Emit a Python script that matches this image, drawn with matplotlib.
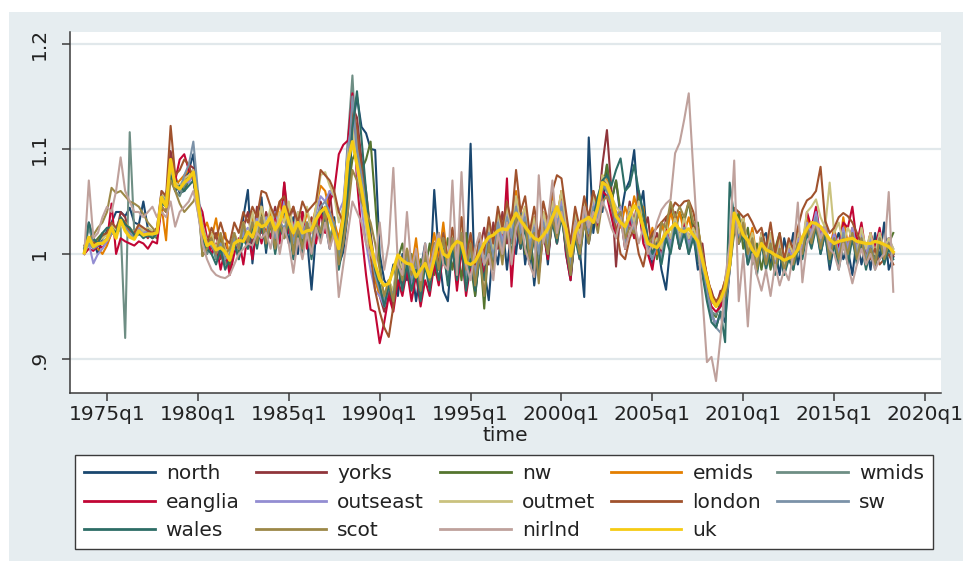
import numpy as np
import matplotlib
matplotlib.use("Agg")
import matplotlib.pyplot as plt
from matplotlib.patches import Rectangle

# Quarterly index in Stata %tq units (0 = 1960q1); first observation 1973q4
start_q = 55

# Regional ratios, stored in thousandths (1000 = 1.000)
north = [
    1003, 1030, 1012, 1000, 1015, 1022, 1030, 1040, 1040, 1036,
    1044, 1030, 1028, 1050, 1024, 1020, 1022, 1050, 1055, 1085,
    1070, 1058, 1060, 1080, 1095, 1050, 1010, 1000, 1020, 1000,
    1012, 990, 1003, 1020, 1000, 1035, 1061, 991, 1035, 1054,
    1001, 1040, 1012, 1025, 1045, 1010, 1035, 1000, 1040, 1015,
    966, 1020, 1045, 1030, 1005, 1035, 990, 1002, 1040, 1120,
    1150, 1121, 1115, 1100, 1099, 1000, 975, 968, 990, 960,
    1000, 975, 990, 955, 985, 1010, 970, 1061, 1000, 965,
    955, 1010, 990, 1020, 975, 1105, 960, 1000, 985, 956,
    1012, 990, 1030, 985, 1025, 1000, 1040, 990, 1020, 970,
    1010, 1030, 990, 1040, 1010, 1045, 1000, 975, 1020, 1005,
    959, 1111, 1020, 1055, 1040, 1085, 1050, 1070, 1035, 1060,
    1070, 1099, 1040, 1060, 1005, 990, 1015, 985, 966, 1010,
    1030, 1005, 1025, 1000, 1020, 985, 995, 960, 945, 930,
    945, 935, 985, 1030, 1010, 1025, 990, 1010, 985, 1015,
    1020, 990, 1005, 980, 1015, 995, 1020, 990, 1012, 1025,
    1010, 1030, 1000, 1020, 985, 1010, 1020, 995, 1005, 980,
    1015, 990, 1010, 985, 1020, 995, 1030, 985, 997,
]
yorks = [
    1000, 1012, 1005, 1008, 1012, 1010, 1020, 1018, 1040, 1035,
    1020, 1018, 1025, 1020, 1015, 1022, 1018, 1050, 1050, 1098,
    1075, 1060, 1070, 1085, 1082, 1050, 1030, 1015, 1005, 1020,
    995, 1010, 985, 1015, 1000, 1025, 1040, 1010, 1045, 1020,
    1040, 1025, 1045, 1020, 1068, 1030, 1045, 1020, 1040, 1010,
    1035, 1020, 1050, 1035, 1060, 1020, 1000, 1040, 1100, 1140,
    1130, 1090, 1060, 1020, 985, 960, 945, 965, 950, 990,
    970, 1000, 975, 995, 960, 1005, 975, 1010, 985, 1020,
    975, 1020, 990, 1030, 980, 1010, 965, 1005, 1025, 990,
    1030, 1005, 1040, 1010, 1035, 1055, 1015, 1030, 1000, 1020,
    995, 1030, 1010, 1050, 1030, 1060, 1020, 990, 1040, 1015,
    1045, 1020, 1060, 1040, 1085, 1118, 1060, 988, 1045, 1020,
    1050, 1030, 1060, 1020, 1035, 1000, 1020, 1000, 1035, 1010,
    1040, 1015, 1035, 1010, 1030, 1000, 1010, 975, 965, 950,
    965, 960, 1005, 1040, 1020, 1035, 1005, 1020, 990, 1015,
    995, 1015, 985, 1005, 990, 1010, 1000, 1020, 1000, 1030,
    1015, 1035, 1010, 1025, 1000, 1020, 995, 1015, 1000, 1020,
    995, 1015, 1000, 1020, 990, 1010, 1000, 1015, 998,
]
nw = [
    1005, 1010, 1010, 1015, 1020, 1018, 1022, 1025, 1030, 1028,
    1025, 1020, 1024, 1020, 1022, 1018, 1015, 1050, 1055, 1080,
    1070, 1065, 1060, 1070, 1075, 1055, 998, 1005, 1020, 995,
    1015, 1000, 990, 1010, 1000, 1025, 1010, 1030, 1015, 1040,
    1015, 1035, 1010, 1030, 1020, 1040, 1005, 1030, 1010, 1025,
    1000, 1030, 1020, 1045, 1015, 1030, 990, 1020, 1060, 1090,
    1100, 1080, 1090, 1107, 1050, 990, 955, 975, 960, 995,
    1010, 980, 1000, 975, 995, 985, 1010, 980, 1020, 990,
    1015, 985, 1010, 975, 1020, 990, 960, 1005, 948, 1015,
    990, 1025, 1000, 1030, 995, 1020, 1035, 1000, 1020, 985,
    1005, 1030, 995, 1040, 1015, 1045, 1010, 980, 1020, 1000,
    1040, 1015, 1050, 1030, 1060, 1085, 1050, 1070, 1040, 1010,
    1040, 1020, 1055, 1030, 1005, 1020, 995, 1030, 1015, 1045,
    1020, 1040, 1030, 1050, 1020, 1030, 990, 970, 945, 940,
    955, 950, 985, 1020, 1040, 1005, 1025, 990, 1010, 985,
    1010, 985, 1005, 1020, 990, 1000, 985, 1015, 1000, 1025,
    1015, 1035, 1010, 1030, 1000, 1020, 990, 1015, 1000, 1020,
    1000, 1025, 995, 1015, 990, 1020, 1000, 1010, 1020,
]
emids = [
    1002, 1015, 1010, 1005, 1000, 1008, 1020, 1018, 1030, 1028,
    1020, 1015, 1022, 1018, 1020, 1015, 1018, 1045, 1013, 1080,
    1065, 1070, 1075, 1080, 1075, 1045, 1020, 1030, 1015, 1034,
    1005, 1020, 995, 1015, 1005, 1030, 1015, 1035, 1020, 1045,
    1020, 1040, 1025, 1050, 1030, 1045, 1015, 1035, 1020, 1040,
    1025, 1045, 1065, 1060, 1040, 1030, 1015, 1040, 1095, 1130,
    1110, 1070, 1040, 1010, 975, 960, 955, 975, 960, 1000,
    980, 1005, 985, 1015, 975, 1000, 990, 1020, 995, 1030,
    990, 1020, 1000, 1035, 990, 1015, 985, 1020, 995, 1030,
    1005, 1040, 1015, 1045, 1020, 1060, 1030, 1045, 1010, 1035,
    1005, 1040, 1020, 1055, 1035, 1060, 1025, 1000, 1040, 1020,
    1050, 1030, 1055, 1040, 1075, 1070, 1055, 1040, 1025, 1045,
    1030, 1055, 1035, 1045, 1010, 1025, 1000, 1030, 1015, 1040,
    1025, 1040, 1020, 1035, 1015, 1025, 1000, 980, 960, 955,
    960, 975, 995, 1040, 1020, 1035, 1005, 1025, 995, 1020,
    1000, 1020, 990, 1015, 995, 1010, 1000, 1025, 1010, 1035,
    1020, 1040, 1015, 1030, 1005, 1025, 1000, 1035, 1010, 1025,
    1000, 1020, 995, 1015, 1000, 1020, 995, 1010, 1000,
]
wmids = [
    1004, 1025, 1010, 1012, 1015, 1020, 1022, 1018, 1025, 920,
    1116, 1020, 1018, 1022, 1020, 1015, 1018, 1050, 1045, 1085,
    1060, 1055, 1065, 1070, 1075, 1040, 1015, 1000, 1010, 995,
    1010, 990, 1000, 1015, 995, 1020, 1005, 1025, 1010, 1030,
    1010, 1035, 1005, 1030, 1015, 1040, 1000, 1025, 1005, 1030,
    1005, 1035, 1020, 1045, 1015, 1030, 995, 1040, 1110, 1170,
    1090, 1060, 1030, 1000, 980, 970, 950, 975, 960, 1000,
    975, 995, 970, 990, 960, 1000, 970, 1005, 985, 1015,
    980, 1010, 985, 1020, 975, 1005, 970, 1000, 985, 1020,
    995, 1030, 1005, 1035, 1010, 1045, 1015, 1035, 1000, 1025,
    990, 1030, 1005, 1040, 1015, 1045, 1010, 985, 1030, 1005,
    1040, 1015, 1045, 1030, 1065, 1060, 1045, 1020, 1035, 1005,
    1035, 1015, 1045, 1015, 1005, 995, 1010, 995, 1020, 1005,
    1030, 1010, 1025, 1005, 1020, 1000, 985, 965, 945, 942,
    950, 955, 990, 1035, 1010, 1025, 995, 1010, 985, 1015,
    990, 1010, 985, 1005, 980, 1000, 990, 1010, 1000, 1025,
    1010, 1030, 1005, 1025, 995, 1015, 990, 1015, 995, 1020,
    995, 1015, 990, 1010, 985, 1015, 995, 1010, 1000,
]
eanglia = [
    1000, 1005, 1003, 1008, 1006, 1012, 1048, 1000, 1015, 1012,
    1010, 1008, 1012, 1010, 1005, 1012, 1010, 1045, 1040, 1085,
    1070, 1090, 1095, 1080, 1070, 1050, 1040, 1015, 1000, 1010,
    985, 1005, 980, 1000, 1015, 990, 1020, 995, 1030, 1010,
    1030, 1015, 1040, 1010, 1068, 1020, 1030, 1010, 1040, 1005,
    1025, 1010, 1040, 1020, 1050, 1060, 1095, 1104, 1108, 1153,
    1070, 1020, 980, 947, 945, 915, 935, 960, 945, 975,
    960, 985, 955, 980, 950, 975, 960, 990, 970, 1000,
    975, 1010, 965, 1005, 960, 990, 970, 1000, 980, 1015,
    990, 1025, 1000, 1072, 969, 1030, 1005, 1035, 990, 1020,
    980, 1020, 995, 1035, 1010, 1045, 1000, 975, 1025, 995,
    1035, 1010, 1045, 1025, 1060, 1055, 1035, 1015, 1040, 1005,
    1035, 1015, 1045, 1010, 1000, 985, 1015, 995, 1025, 1010,
    1030, 1005, 1030, 1015, 1025, 1000, 990, 965, 950, 945,
    950, 965, 990, 1030, 1010, 1030, 995, 1015, 990, 1020,
    995, 1015, 990, 1010, 985, 1005, 995, 1015, 1000, 1040,
    1025, 1045, 1015, 1030, 1000, 1020, 1005, 1030, 1025, 1045,
    1010, 1030, 1000, 1020, 1005, 1025, 995, 1015, 1000,
]
outseast = [
    1002, 1010, 991, 1000, 1005, 1012, 1020, 1018, 1028, 1025,
    1020, 1018, 1025, 1020, 1022, 1020, 1022, 1060, 1055, 1080,
    1060, 1065, 1070, 1068, 1075, 1050, 1025, 1010, 1012, 1005,
    1008, 1000, 995, 1015, 1005, 1020, 1025, 1015, 1035, 1025,
    1035, 1025, 1040, 1025, 1050, 1030, 1025, 1040, 1020, 1030,
    1025, 1040, 1055, 1050, 1060, 1055, 1040, 1050, 1100, 1130,
    1080, 1045, 1010, 985, 965, 960, 950, 970, 960, 990,
    980, 995, 970, 990, 965, 995, 975, 1000, 985, 1010,
    985, 1015, 990, 1020, 985, 1005, 980, 1010, 990, 1025,
    1000, 1035, 1010, 1040, 1020, 1050, 1025, 1040, 1010, 1030,
    1005, 1035, 1015, 1045, 1030, 1050, 1020, 995, 1035, 1015,
    1045, 1025, 1050, 1035, 1070, 1065, 1055, 1035, 1045, 1015,
    1040, 1025, 1050, 1020, 1010, 995, 1010, 995, 1020, 1010,
    1030, 1010, 1025, 1010, 1020, 1005, 985, 960, 940, 935,
    940, 950, 985, 1035, 1015, 1025, 1000, 1015, 990, 1015,
    995, 1015, 990, 1010, 990, 1005, 995, 1015, 1005, 1030,
    1020, 1040, 1015, 1030, 1005, 1020, 1000, 1025, 1005, 1025,
    1005, 1020, 1000, 1015, 1000, 1020, 1000, 1015, 1005,
]
outmet = [
    1003, 1012, 1008, 1012, 1015, 1018, 1028, 1022, 1035, 1030,
    1025, 1020, 1028, 1022, 1025, 1022, 1020, 1058, 1050, 1085,
    1068, 1065, 1072, 1075, 1080, 1052, 1028, 1012, 1020, 1005,
    1020, 1005, 1000, 1020, 1010, 1030, 1015, 1040, 1020, 1045,
    1025, 1045, 1020, 1040, 1030, 1050, 1020, 1040, 1025, 1045,
    1020, 1045, 1075, 1078, 1065, 1055, 1030, 1045, 1095, 1120,
    1085, 1055, 1025, 995, 980, 970, 960, 975, 965, 1000,
    985, 1005, 980, 1000, 975, 1000, 985, 1010, 990, 1020,
    990, 1020, 995, 1025, 990, 1010, 990, 1015, 995, 1030,
    1005, 1040, 1020, 1045, 1025, 1055, 1030, 1045, 1015, 1035,
    1010, 1040, 1020, 1050, 1035, 1060, 1030, 1005, 1040, 1020,
    1050, 1030, 1055, 1040, 1075, 1068, 1055, 1045, 1040, 1020,
    1045, 1030, 1050, 1025, 1015, 1005, 1015, 1005, 1030, 1015,
    1035, 1015, 1035, 1015, 1025, 1010, 995, 975, 958, 950,
    955, 965, 990, 1040, 1020, 1035, 1005, 1020, 995, 1020,
    1000, 1020, 995, 1015, 990, 1010, 1000, 1020, 1010, 1040,
    1045, 1052, 1035, 1025, 1068, 1020, 1030, 1010, 1025, 1015,
    1000, 1025, 1005, 1020, 1000, 1020, 1005, 1015, 1005,
]
london = [
    1003, 1015, 1010, 1012, 1018, 1020, 1030, 1025, 1035, 1030,
    1022, 1020, 1028, 1025, 1022, 1020, 1025, 1060, 1055, 1122,
    1075, 1080, 1090, 1085, 1070, 1045, 1020, 1010, 1025, 1015,
    1030, 1015, 1010, 1030, 1020, 1040, 1030, 1045, 1035, 1060,
    1058, 1045, 1035, 1050, 1055, 1035, 1045, 1030, 1050, 1040,
    1045, 1050, 1080, 1075, 1070, 1060, 1040, 1030, 1060, 1140,
    1120, 1080, 1050, 1000, 965, 945, 930, 921, 950, 985,
    985, 1000, 975, 995, 970, 1000, 985, 1010, 990, 1020,
    995, 1025, 1000, 1035, 995, 1020, 990, 1015, 1000, 1035,
    1010, 1045, 1025, 1050, 1030, 1080, 1040, 1055, 1020, 1045,
    1015, 1050, 1030, 1060, 1075, 1072, 1040, 1010, 1045, 1025,
    1055, 1035, 1060, 1045, 1070, 1065, 1050, 1025, 1000, 995,
    1015, 1025, 1000, 988, 1010, 1020, 1025, 1030, 1035, 1040,
    1049, 1045, 1050, 1051, 1040, 1020, 1000, 980, 962, 955,
    960, 975, 1000, 1044, 1040, 1035, 1038, 1030, 1020, 1025,
    1005, 1030, 1000, 1020, 995, 1015, 1005, 1025, 1042, 1051,
    1054, 1060, 1083, 1032, 1020, 1025, 1035, 1039, 1036, 1030,
    1020, 1010, 1000, 995, 1005, 990, 995, 1000, 990,
]
sw = [
    1000, 1010, 1005, 1008, 1012, 1015, 1020, 1018, 1030, 1025,
    1020, 1015, 1020, 1018, 1020, 1018, 1022, 1055, 1050, 1085,
    1065, 1060, 1075, 1085, 1107, 1060, 1025, 1010, 1008, 1000,
    1010, 995, 1000, 1015, 1005, 1025, 1015, 1030, 1015, 1035,
    1015, 1035, 1015, 1030, 1025, 1035, 1010, 1030, 1015, 1030,
    1010, 1035, 1045, 1050, 1040, 1025, 1010, 1030, 1080, 1150,
    1100, 1075, 1045, 1010, 980, 965, 955, 970, 960, 995,
    975, 1000, 975, 995, 965, 995, 975, 1005, 985, 1015,
    980, 1015, 985, 1020, 980, 1005, 975, 1010, 990, 1020,
    995, 1030, 1005, 1035, 1015, 1045, 1020, 1035, 1005, 1025,
    1000, 1030, 1010, 1040, 1025, 1045, 1015, 990, 1030, 1010,
    1040, 1020, 1045, 1030, 1065, 1062, 1050, 1030, 1040, 1010,
    1040, 1020, 1045, 1020, 1005, 995, 1010, 995, 1020, 1005,
    1030, 1010, 1025, 1005, 1020, 1000, 985, 965, 945, 930,
    925, 950, 985, 1030, 1010, 1025, 995, 1010, 985, 1015,
    990, 1010, 985, 1005, 985, 1000, 990, 1010, 1000, 1025,
    1015, 1035, 1010, 1025, 1000, 1015, 995, 1020, 1000, 1020,
    1000, 1015, 995, 1010, 990, 1015, 995, 1010, 1000,
]
wales = [
    1005, 1030, 1015, 1010, 1020, 1025, 1025, 1020, 1035, 1028,
    1025, 1018, 1020, 1015, 1018, 1015, 1020, 1048, 1045, 1075,
    1060, 1065, 1060, 1065, 1070, 1045, 1015, 1005, 1000, 990,
    1005, 985, 995, 1010, 995, 1015, 1005, 1025, 1005, 1030,
    1005, 1030, 1000, 1025, 1015, 1030, 995, 1020, 1000, 1025,
    995, 1030, 1015, 1040, 1010, 1025, 985, 1010, 1060, 1120,
    1155, 1110, 1060, 1015, 985, 970, 950, 970, 955, 990,
    965, 990, 965, 985, 955, 990, 965, 1000, 975, 1005,
    970, 1005, 975, 1010, 965, 995, 965, 995, 975, 1010,
    985, 1020, 995, 1025, 1000, 1035, 1005, 1025, 990, 1015,
    985, 1020, 1000, 1030, 1010, 1035, 1005, 980, 1015, 995,
    1030, 1010, 1035, 1055, 1070, 1075, 1065, 1080, 1091, 1060,
    1065, 1085, 1060, 1040, 1015, 1000, 1010, 990, 1015, 1000,
    1025, 1005, 1020, 1000, 1015, 995, 980, 955, 935, 930,
    945, 916, 1068, 1035, 1010, 1020, 990, 1005, 980, 1010,
    985, 1005, 980, 1000, 980, 995, 985, 1005, 995, 1020,
    1005, 1025, 1000, 1020, 990, 1010, 985, 1010, 990, 1015,
    990, 1010, 985, 1005, 990, 1010, 990, 1005, 995,
]
scot = [
    1008, 1015, 1018, 1025, 1030, 1040, 1063, 1058, 1060, 1055,
    1050, 1048, 1045, 1038, 1030, 1025, 1020, 1045, 1040, 1070,
    1060, 1048, 1040, 1045, 1050, 1060, 998, 1005, 1015, 1000,
    1020, 1000, 1005, 1020, 1005, 1030, 1010, 1030, 1010, 1035,
    1010, 1030, 1005, 1030, 1015, 1035, 1000, 1025, 1005, 1030,
    1005, 1030, 1020, 1040, 1010, 1025, 990, 1010, 1040, 1080,
    1070, 1050, 1040, 1030, 1010, 985, 960, 975, 955, 995,
    975, 1005, 980, 1000, 965, 1000, 975, 1010, 985, 1015,
    985, 1015, 990, 1020, 985, 1010, 970, 1000, 960, 1010,
    985, 1020, 990, 1030, 995, 1035, 1010, 1030, 995, 1020,
    972, 1025, 1000, 1035, 1015, 1040, 1010, 980, 1020, 1000,
    1030, 1010, 1040, 1020, 1050, 1055, 1045, 1035, 1040, 1015,
    1025, 1020, 1040, 1025, 1010, 1015, 1005, 1030, 1025, 1050,
    1035, 1045, 1035, 1050, 1030, 1025, 1000, 975, 955, 950,
    955, 960, 985, 1025, 1010, 1030, 1000, 1015, 985, 1015,
    990, 1010, 985, 1005, 985, 1000, 990, 1010, 1000, 1025,
    1010, 1030, 1005, 1025, 995, 1015, 995, 1015, 1000, 1020,
    995, 1015, 990, 1005, 990, 1015, 995, 1010, 1000,
]
nirlnd = [
    1000, 1070, 1015, 1020, 1035, 1045, 1040, 1060, 1092, 1060,
    1050, 1040, 1040, 1035, 1040, 1045, 1035, 1040, 1035, 1050,
    1026, 1040, 1045, 1050, 1060, 1040, 1010, 995, 985, 980,
    978, 977, 980, 990, 1000, 1005, 1010, 1008, 1020, 1015,
    1020, 1005, 1030, 1000, 1025, 1010, 982, 1015, 995, 1020,
    1000, 1025, 1010, 1030, 1005, 1020, 959, 990, 1020, 1050,
    1040, 1030, 1010, 1000, 990, 1030, 985, 1010, 1082, 990,
    980, 1040, 985, 1005, 975, 1010, 985, 1005, 1020, 990,
    985, 1070, 980, 1078, 990, 975, 1005, 1020, 990, 1000,
    975, 1020, 1000, 1030, 990, 1025, 1035, 1005, 990, 978,
    1075, 1010, 1030, 1070, 1020, 1040, 1015, 1000, 1030, 1010,
    1045, 1025, 1040, 1030, 1050, 1040, 1025, 1015, 1035, 1005,
    1020, 1030, 1010, 1025, 1000, 1010, 1030, 1042, 1048, 1052,
    1096, 1106, 1128, 1153, 1080, 1010, 960, 897, 902, 879,
    921, 975, 1010, 1089, 955, 1000, 931, 1000, 980, 965,
    985, 960, 990, 970, 985, 975, 1000, 1049, 973, 1010,
    1020, 1030, 1015, 1025, 1005, 1000, 985, 1010, 990, 972,
    990, 1005, 990, 1000, 985, 995, 1000, 1059, 964,
]
uk = [
    1001, 1016, 1007, 1010, 1010, 1014, 1025, 1015, 1032, 1022,
    1016, 1014, 1022, 1018, 1019, 1019, 1020, 1054, 1045, 1090,
    1065, 1062, 1068, 1072, 1078, 1048, 1022, 1008, 1011, 1004,
    1006, 1002, 994, 1010, 1013, 1012, 1021, 1016, 1030, 1026,
    1028, 1035, 1023, 1030, 1045, 1030, 1020, 1030, 1020, 1022,
    1023, 1033, 1040, 1044, 1033, 1020, 1005, 1035, 1088, 1107,
    1085, 1062, 1035, 1010, 990, 976, 970, 972, 985, 999,
    994, 991, 990, 978, 985, 991, 978, 995, 1014, 1000,
    997, 1007, 1012, 1010, 992, 990, 993, 1001, 1010, 1016,
    1018, 1022, 1024, 1023, 1030, 1039, 1032, 1026, 1020, 1015,
    1013, 1018, 1024, 1035, 1045, 1034, 1024, 998, 1020, 1030,
    1032, 1035, 1030, 1045, 1068, 1065, 1055, 1036, 1030, 1026,
    1036, 1046, 1040, 1025, 1010, 1008, 1006, 1012, 1020, 1024,
    1029, 1023, 1021, 1024, 1018, 1012, 994, 976, 958, 950,
    957, 968, 990, 1039, 1030, 1018, 1013, 1004, 998, 1010,
    1004, 1002, 999, 997, 994, 996, 998, 1004, 1016, 1024,
    1030, 1029, 1026, 1020, 1014, 1010, 1012, 1013, 1014, 1015,
    1012, 1011, 1010, 1010, 1012, 1011, 1009, 1007, 1002,
]

names = ["north", "yorks", "nw", "emids", "wmids", "eanglia", "outseast",
         "outmet", "london", "sw", "wales", "scot", "nirlnd", "uk"]
data = [north, yorks, nw, emids, wmids, eanglia, outseast,
        outmet, london, sw, wales, scot, nirlnd, uk]
# Stata s2color palette
colors = ["#1a476f", "#90353b", "#55752f", "#e37e00", "#6e8e84", "#c10534",
          "#938dd2", "#cac27e", "#a0522d", "#7b92a8", "#2d6d66", "#9c8847",
          "#bfa19c", "#f5cb14"]

tick_q = list(range(60, 241, 20))
tick_labels = [f"{1960 + q // 4}q1" for q in tick_q]
y_ticks = [0.9, 1.0, 1.1, 1.2]
y_labels = [".9", "1", "1.1", "1.2"]

W, H = 967, 566
FS = 14.5
plt.rcParams["font.family"] = ["DejaVu Sans"]

fig = plt.figure(figsize=(W / 100, H / 100), dpi=100, facecolor="white")
fig.patches.append(Rectangle((9 / W, 1 - 561 / H), (963 - 9) / W, (561 - 12) / H,
                             transform=fig.transFigure, facecolor="#e6edf0",
                             edgecolor="none", zorder=-10))

ax = fig.add_axes([70 / W, 1 - 393 / H, (941 - 70) / W, (393 - 32) / H])
ax.set_facecolor("white")

handles = []
for name, vals, col in zip(names, data, colors):
    v = np.asarray(vals, dtype=float) / 1000.0
    q = start_q + np.arange(len(v))
    lw = 2.3 if name == "uk" else 1.5
    (h,) = ax.plot(q, v, color=col, lw=lw, label=name, solid_joinstyle="round")
    handles.append(h)

ax.set_xlim(51.86, 243.5)
ax.set_ylim(0.8676, 1.2114)
ax.set_xticks(tick_q)
ax.set_xticklabels(tick_labels)
ax.set_yticks(y_ticks)
ax.set_yticklabels(y_labels, rotation=90, va="center")
ax.grid(axis="y", color="#e1e8eb", lw=1.6)
ax.set_axisbelow(True)
for s in ("top", "right"):
    ax.spines[s].set_visible(False)
for s in ("left", "bottom"):
    ax.spines[s].set_color("#3a3a3a")
    ax.spines[s].set_linewidth(1.1)
ax.tick_params(axis="both", length=6, width=1.1, color="#3a3a3a",
               labelsize=FS, labelcolor="#222222")
ax.tick_params(axis="x", pad=3)
ax.tick_params(axis="y", pad=9)
ax.set_xlabel("time", fontsize=FS, color="#222222", labelpad=1)

# legend laid out row by row (matplotlib fills columns first)
order = [0, 5, 10, 1, 6, 11, 2, 7, 12, 3, 8, 13, 4, 9]
leg = fig.legend([handles[i] for i in order], [names[i] for i in order],
                 ncol=5, loc="upper left", mode="expand",
                 bbox_to_anchor=(75 / W, 1 - 548 / H, (933 - 75) / W, (548 - 455) / H),
                 borderaxespad=0, fontsize=FS, handlelength=3.5,
                 handletextpad=0.55, labelspacing=0.48, borderpad=0.45,
                 fancybox=False, framealpha=1, edgecolor="#3a3a3a")
leg.get_frame().set_linewidth(1.0)
for t in leg.get_texts():
    t.set_color("#222222")
for lh in leg.get_lines():
    lh.set_linewidth(2.0)

fig.savefig("out.png", dpi=100, facecolor="white")
